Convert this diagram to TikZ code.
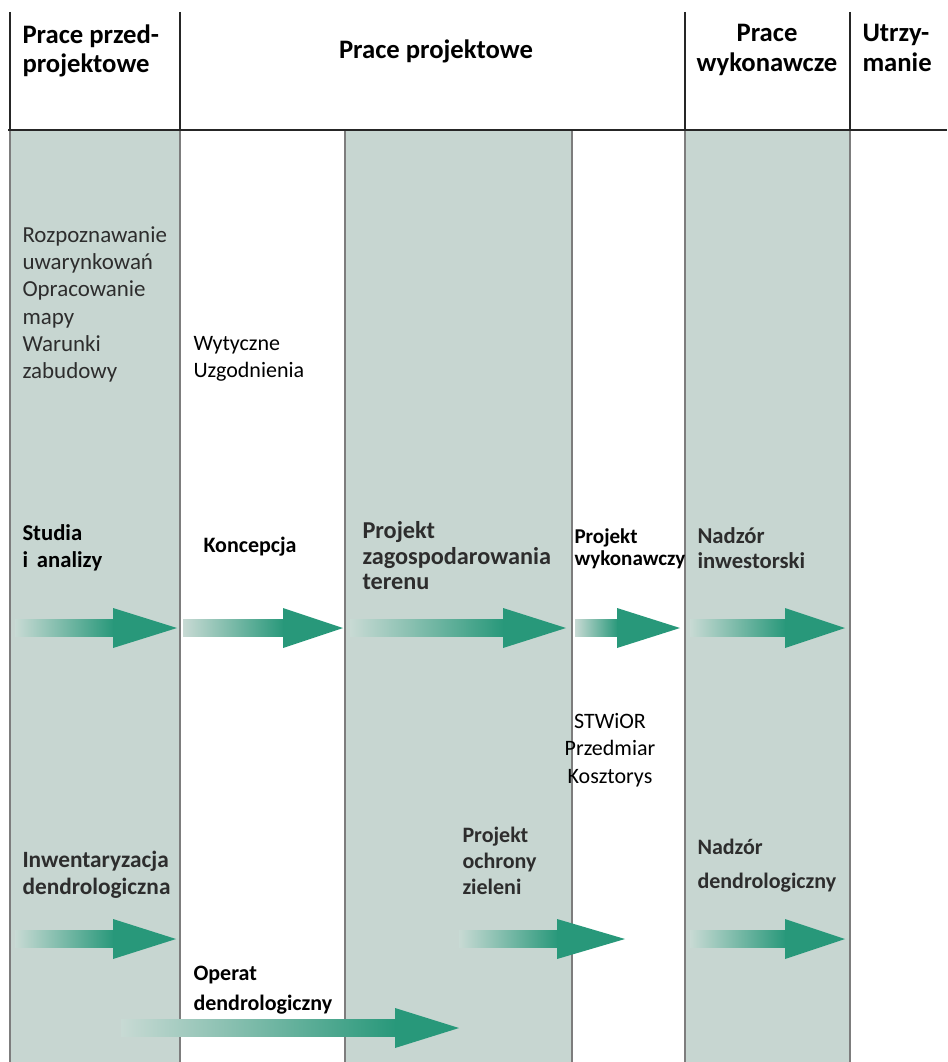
\documentclass[tikz,border=0pt]{standalone}
\usepackage{fontspec}
\setmainfont{Carlito}

\definecolor{colshade}{RGB}{199,214,209}
\definecolor{arrowteal}{RGB}{40,152,122}
\definecolor{arrowlight}{RGB}{200,218,212}
\definecolor{linegray}{RGB}{125,125,125}
\definecolor{textgray}{RGB}{45,45,45}

\tikzset{every picture/.style={line width=0.75pt}}
\tikzset{
  hdrtext/.style={inner sep=0pt, font=\fontsize{20}{22}\selectfont\bfseries},
  bodytext/.style={inner sep=0pt, anchor=north west, align=left, font=\fontsize{16.5}{20.5}\selectfont},
  boldtext/.style={bodytext, font=\fontsize{16.5}{20.5}\selectfont\bfseries},
  hdrline/.style={line width=1.5pt, color=black!85},
  colline/.style={line width=1pt, color=linegray},
}

% block arrow: start x, head x, tip x, middle y
\newcommand{\flowarrow}[4]{%
  \shade[left color=arrowlight, right color=arrowteal] (#1,#4-8.5) rectangle (#2+1,#4+8.5);
  \fill[arrowteal] (#2,#4-20) -- (#3,#4) -- (#2,#4+20) -- cycle;
}

\begin{document}
\begin{tikzpicture}[x=0.75pt,y=0.75pt,yscale=-1,xscale=1]
\useasboundingbox (0,0) rectangle (947,1062);

%Shape: Rectangle (shaded columns)
\fill[colshade] (10,130) rectangle (180,1062);
\fill[colshade] (345,130) rectangle (572,1062);
\fill[colshade] (685,130) rectangle (850,1062);

%Straight Lines (column borders)
\draw[colline] (10,130) -- (10,1062);
\draw[colline] (180,130) -- (180,1062);
\draw[colline] (345,130) -- (345,1062);
\draw[colline] (572,130) -- (572,1062);
\draw[colline] (685,130) -- (685,1062);
\draw[colline] (850,130) -- (850,1062);

%Straight Lines (header)
\draw[hdrline] (10,12) -- (10,130);
\draw[hdrline] (180,12) -- (180,130);
\draw[hdrline] (685,12) -- (685,130);
\draw[hdrline] (850,12) -- (850,130);
\draw[hdrline, line width=2pt] (8,130) -- (947,130);

% Text Node (header)
\node[hdrtext, anchor=north west, align=left] (hdrpre) at (22,24) {Prace przed-\\projektowe};
\node[hdrtext, anchor=north] (hdrproj) at (436,39) {Prace projektowe};
\node[hdrtext, anchor=north, align=center] (hdrwyk) at (767,24) {Prace\\wykonawcze};
\node[hdrtext, anchor=north west, align=left] (hdrutrz) at (862,24) {Utrzy-\\manie};

% Text Node
\node[bodytext, text=textgray, font=\fontsize{17.2}{20.5}\selectfont] (txtrozp) at (22,226)
  {Rozpoznawanie\\uwarynkowań\\Opracowanie\\mapy\\Warunki\\zabudowy};
% Text Node
\node[bodytext] (txtwyt) at (193,336) {Wytyczne\\Uzgodnienia};

% Text Node
\node[boldtext, font=\fontsize{17}{20}\selectfont\bfseries] (txtstud) at (22,524) {Studia\\i~\,analizy};
% Text Node
\node[boldtext] (txtkonc) at (203,537) {Koncepcja};
% Text Node
\node[boldtext, text=textgray, font=\fontsize{18.2}{19.3}\selectfont\bfseries] (txtpzt) at (362,521)
  {Projekt\\zagospodarowania\\terenu};
% Text Node
\node[boldtext, font=\fontsize{15.8}{16.5}\selectfont\bfseries] (txtpw) at (574,528) {Projekt\\wykonawczy};
% Text Node
\node[boldtext, text=textgray, font=\fontsize{17}{18.5}\selectfont\bfseries] (txtnadzi) at (697,527) {Nadzór\\inwestorski};

%Shape: Arrows (first row)
\flowarrow{15}{113}{177}{628}
\flowarrow{183}{283}{343}{628}
\flowarrow{350}{503}{566}{628}
\flowarrow{575}{617}{680}{628}
\flowarrow{690}{785}{845}{628}

% Text Node
\node[bodytext, anchor=north, align=center] (txtstw) at (610,713) {STWiOR\\Przedmiar\\Kosztorys};

% Text Node
\node[boldtext, text=textgray, font=\fontsize{17.5}{20}\selectfont\bfseries] (txtinw) at (22,851)
  {Inwentaryzacja\\dendrologiczna};
% Text Node
\node[boldtext, text=textgray, font=\fontsize{16.5}{19.5}\selectfont\bfseries] (txtpoz) at (462,827)
  {Projekt\\ochrony\\zieleni};
% Text Node
\node[boldtext, text=textgray, font=\fontsize{16.5}{25}\selectfont\bfseries] (txtnadzd) at (697,839)
  {Nadzór\\dendrologiczny};

%Shape: Arrows (second row)
\flowarrow{15}{113}{176}{939}
\flowarrow{459}{557}{625}{939}
\flowarrow{690}{785}{845}{939}

% Text Node
\node[boldtext, font=\fontsize{16.5}{22}\selectfont\bfseries] (txtoper) at (193,966) {Operat\\dendrologiczny};

%Shape: Arrow (operat)
\flowarrow{121}{395}{459}{1028}

\end{tikzpicture}
\end{document}
